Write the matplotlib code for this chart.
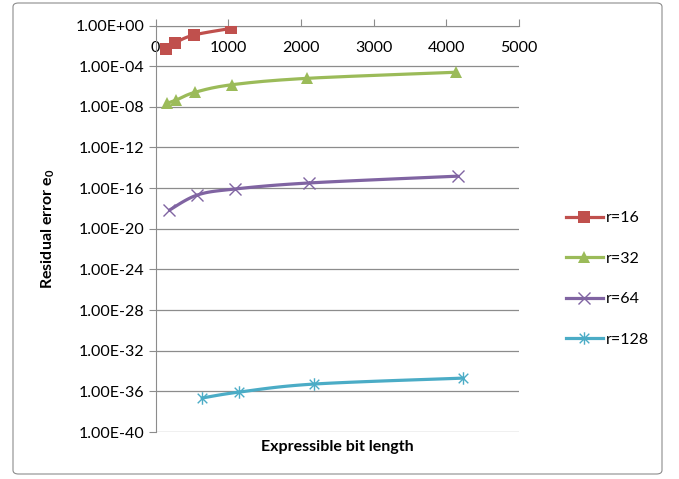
import numpy as np
import matplotlib
matplotlib.use("Agg")
import matplotlib.pyplot as plt
from matplotlib.path import Path
from matplotlib.patches import FancyBboxPatch
from matplotlib.lines import Line2D

plt.rcParams['font.family'] = ['Lato', 'DejaVu Sans']
plt.rcParams['mathtext.default'] = 'regular'

#==================data===================
x_r16 = [144, 272, 528, 1040]
y_r16 = [4.6e-3, 2.0e-2, 1.15e-1, 5.2e-1]

x_r32 = [160, 288, 544, 1056, 2080, 4128]
y_r32 = [2.2e-8, 4.7e-8, 2.7e-7, 1.5e-6, 6.3e-6, 2.5e-5]

x_r64 = [192, 576, 1088, 2112, 4160]
y_r64 = [6.9e-19, 2.1e-17, 8.1e-17, 3.2e-16, 1.5e-15]

x_r128 = [640, 1152, 2176, 4224]
y_r128 = [2.2e-37, 8.5e-37, 5.2e-36, 2.0e-35]

series_labels = ['r=16', 'r=32', 'r=64', 'r=128']
x_ticks = [0, 1000, 2000, 3000, 4000, 5000]
y_exps = list(range(0, -41, -4))
#=========================================

colors = ['#C0504D', '#9BBB59', '#8064A2', '#4BACC6']
grid_col = '#8C8C8C'
fs = 11.5

# excel style star marker: an x with a vertical bar
star = Path([(-1, -1), (1, 1), (-1, 1), (1, -1), (0, -1.3), (0, 1.3)],
            [Path.MOVETO, Path.LINETO, Path.MOVETO, Path.LINETO, Path.MOVETO, Path.LINETO])
markers = ['s', '^', 'x', star]
msizes = [8, 8, 8, 9]


def smooth(xs, ys, n=30):
    # catmull-rom through the points, done in (linear x, log y) screen-ish space
    px = np.array(xs, float) * 0.0727
    py = np.log10(ys) * 10.16
    pts = np.column_stack([px, py])
    pts = np.vstack([pts[0], pts, pts[-1]])
    out = []
    for i in range(1, len(pts) - 2):
        p0, p1, p2, p3 = pts[i - 1], pts[i], pts[i + 1], pts[i + 2]
        t = np.linspace(0, 1, n)[:, None]
        seg = 0.5 * ((2 * p1) + (-p0 + p2) * t + (2 * p0 - 5 * p1 + 4 * p2 - p3) * t ** 2
                     + (-p0 + 3 * p1 - 3 * p2 + p3) * t ** 3)
        out.append(seg)
    out = np.vstack(out)
    return out[:, 0] / 0.0727, 10 ** (out[:, 1] / 10.16)


fig = plt.figure(figsize=(6.79, 4.79), dpi=100)
W, H = 679, 479

# chart border
border = FancyBboxPatch((13 / W, 5 / H), (662 - 13) / W, (476 - 5) / H,
                        boxstyle="round,pad=0,rounding_size=0.008",
                        transform=fig.transFigure, facecolor='none',
                        edgecolor='#8C8C8C', linewidth=0.8)
fig.patches.append(border)

ax = fig.add_axes([155.5 / W, 1 - 432 / H, (519 - 155.5) / W, (432 - 25.5) / H])
ax.set_yscale('log')
ax.set_xlim(0, 5000)
ax.set_ylim(1e-40, 1)

all_x = [x_r16, x_r32, x_r64, x_r128]
all_y = [y_r16, y_r32, y_r64, y_r128]
handles = []
for xs, ys, c, m, ms, lab in zip(all_x, all_y, colors, markers, msizes, series_labels):
    sx, sy = smooth(xs, ys)
    ax.plot(sx, sy, color=c, lw=2.3, solid_capstyle='round', zorder=3)
    mew = 1.0 if m in ('x',) or m is star else 0
    ax.plot(xs, ys, ls='none', marker=m, ms=ms, color=c, mec=c, mew=mew, zorder=4)
    handles.append(Line2D([0], [0], color=c, lw=2.3, marker=m, ms=ms, mec=c, mew=mew))

# y axis
ax.set_yticks([10.0 ** e for e in y_exps])
ax.set_yticklabels(['1.00E+00' if e == 0 else '1.00E%03d' % e for e in y_exps])
ax.yaxis.set_minor_locator(matplotlib.ticker.NullLocator())
ax.tick_params(axis='y', direction='out', length=5, width=0.8, color=grid_col,
               labelsize=fs, pad=3)
ax.grid(axis='y', color=grid_col, lw=0.9)

# x axis sits at the top (crosses at 1.00E+00), labels below it
ax.spines['bottom'].set_position(('data', 1.0))
ax.spines['top'].set_visible(False)
ax.spines['right'].set_visible(False)
ax.spines['bottom'].set_color(grid_col)
ax.spines['left'].set_color(grid_col)
ax.set_xticks(x_ticks)
ax.set_xticklabels([str(v) for v in x_ticks])
ax.tick_params(axis='x', direction='in', length=5, width=0.8, color=grid_col,
               labelsize=fs, pad=11)
ax.set_axisbelow(True)

ax.set_ylabel('Residual error e$_0$', fontsize=fs, fontweight='bold')
ax.yaxis.set_label_coords((57 - 155.5) / 363.5, 0.5)
fig.text(337 / W, 1 - 447 / H, 'Expressible bit length', ha='center', va='center',
         fontsize=fs, fontweight='bold')

fig.legend(handles, series_labels, loc='upper left', bbox_to_anchor=(566 / W, 1 - 211 / H),
           frameon=False, fontsize=fs, handlelength=2.3, handletextpad=0.2,
           labelspacing=1.65, borderpad=0, borderaxespad=0)

fig.savefig('out.png', dpi=100)
